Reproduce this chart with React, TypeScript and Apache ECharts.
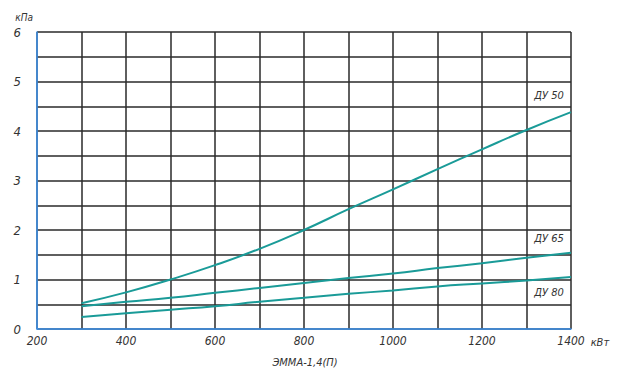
import React, { useEffect, useRef } from "react";
import * as echarts from "echarts";

const xValues = [300, 400, 500, 600, 700, 800, 900, 1000, 1100, 1200, 1300, 1400];
const du50 = [0.52, 0.74, 1.0, 1.29, 1.62, 2.0, 2.42, 2.82, 3.23, 3.63, 4.02, 4.38];
const du65 = [0.46, 0.55, 0.63, 0.73, 0.83, 0.93, 1.03, 1.12, 1.23, 1.33, 1.44, 1.54];
const du80 = [0.24, 0.32, 0.39, 0.46, 0.55, 0.63, 0.71, 0.78, 0.86, 0.92, 0.98, 1.05];
const seriesNames = ["ДУ 50", "ДУ 65", "ДУ 80"];
const xTickLabels = ["200", "400", "600", "800", "1000", "1200", "1400"];
const yTickLabels = ["0", "1", "2", "3", "4", "5", "6"];

const FONT = "'Liberation Sans Narrow', 'DejaVu Sans Condensed', 'Liberation Sans', sans-serif";
const LINE_COLOR = "#1a9b98";

export default function App() {
  const ref = useRef<HTMLDivElement>(null);
  useEffect(() => {
    if (!ref.current) return;
    const chart = echarts.init(ref.current, undefined, { renderer: "svg" });
    const labelStyle = { fontFamily: FONT, fontStyle: "italic", fontSize: 12, color: "#333" };
    const mk = (name: string, vals: number[], offY: number) => ({
      type: "line",
      name,
      smooth: true,
      symbol: "none",
      showSymbol: false,
      lineStyle: { color: LINE_COLOR, width: 2 },
      itemStyle: { color: LINE_COLOR },
      data: vals.map((v, i) => [xValues[i], v]),
      endLabel: {
        show: true,
        formatter: name,
        align: "center",
        verticalAlign: "middle",
        distance: 0,
        offset: [-22, offY],
        ...labelStyle,
        fontSize: 11,
      },
      z: 5,
    });
    chart.setOption({
      animation: false,
      grid: { left: 37, right: 59, top: 32, bottom: 47, containLabel: false },
      title: {
        text: "ЭММА-1,4(П)",
        left: 300,
        top: 352,
        textAlign: "center",
        textStyle: { fontFamily: FONT, fontStyle: "italic", fontSize: 11, fontWeight: "normal", color: "#333" },
      },
      xAxis: {
        type: "value",
        min: 200,
        max: 1400,
        interval: 100,
        name: "кВт",
        nameLocation: "end",
        nameGap: 10,
        nameTextStyle: { ...labelStyle, fontSize: 11, verticalAlign: "top", padding: [8, 0, 0, 0] },
        axisLine: { show: true, lineStyle: { color: "#3d94f0", width: 1.5 } },
        axisTick: { show: false },
        axisLabel: {
          ...labelStyle,
          margin: 6,
          formatter: (v: number) => {
            const s = String(Math.round(v));
            return xTickLabels.includes(s) ? s : "";
          },
        },
        splitLine: { show: true, lineStyle: { color: "#2a2a2a", width: 1.5 } },
      },
      yAxis: {
        type: "value",
        min: 0,
        max: 6,
        interval: 0.5,
        name: "кПа",
        nameLocation: "end",
        nameGap: 10,
        nameTextStyle: { ...labelStyle, fontSize: 10, align: "right", padding: [0, 4, 0, 0] },
        axisLine: { show: true, lineStyle: { color: "#3d94f0", width: 1.5 } },
        axisTick: { show: false },
        axisLabel: {
          ...labelStyle,
          fontSize: 13,
          margin: 16,
          formatter: (v: number) => {
            const s = String(v);
            return yTickLabels.includes(s) ? s : "";
          },
        },
        splitLine: { show: true, lineStyle: { color: "#2a2a2a", width: 1.5 } },
      },
      series: [
        mk(seriesNames[0], du50, -17),
        mk(seriesNames[1], du65, -14),
        mk(seriesNames[2], du80, 15),
      ],
    });
    return () => chart.dispose();
  }, []);
  return <div ref={ref} style={{ width: 630, height: 376, position: "absolute", left: 0, top: 0 }} />;
}
